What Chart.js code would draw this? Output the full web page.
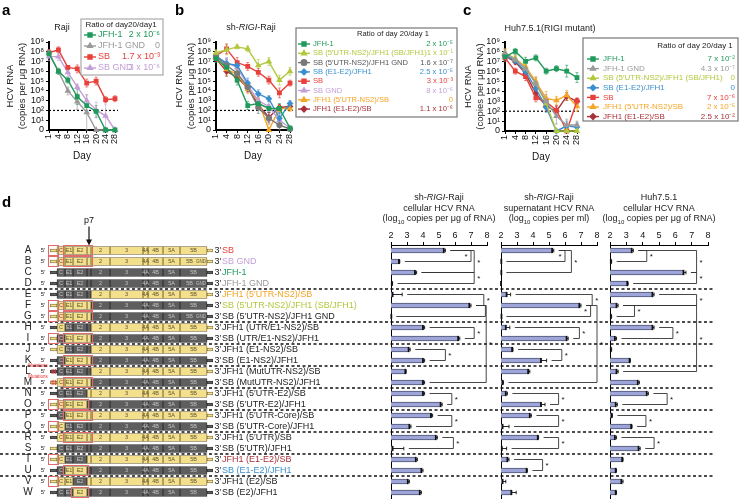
<!DOCTYPE html>
<html>
<head>
<meta charset="utf-8">
<script src="https://cdn.jsdelivr.net/npm/chart.js@4.4.0/dist/chart.umd.min.js"></script>
<style>
body{margin:0;background:#fff;font-family:'Liberation Sans',Arial,Helvetica,sans-serif;}
#wrap{position:relative;width:749px;height:499px;overflow:hidden;}
canvas{position:absolute;left:0;top:0;}
.t{position:absolute;font-size:9px;color:#222;white-space:nowrap;text-align:center;line-height:10.5px;transform:translateX(-50%);}
.lt{position:absolute;font-weight:bold;font-size:15px;color:#000;}
</style>
</head>
<body>
<div id="wrap">
<canvas id="ca" width="749" height="499"></canvas>
<canvas id="cb" width="749" height="499"></canvas>
<canvas id="cc" width="749" height="499"></canvas>
<canvas id="cg" width="749" height="499"></canvas>
<canvas id="b1" width="749" height="499"></canvas>
<canvas id="b2" width="749" height="499"></canvas>
<canvas id="b3" width="749" height="499"></canvas>
<div class="lt" style="left:2px;top:1px">a</div>
<div class="lt" style="left:175px;top:1px">b</div>
<div class="lt" style="left:463px;top:1px">c</div>
<div class="lt" style="left:2px;top:193px">d</div>
<div class="t" style="left:62px;top:22px">Raji</div>
<div class="t" style="left:251px;top:22px">sh-<i>RIGI</i>-Raji</div>
<div class="t" style="left:550px;top:23px">Huh7.5.1(RIGI mutant)</div>
<div class="t" style="left:439px;top:192px">sh-<i>RIGI</i>-Raji<br>cellular HCV RNA<br>(log<sub style="font-size:6px">10</sub> copies per μg of RNA)</div>
<div class="t" style="left:549px;top:192px">sh-<i>RIGI</i>-Raji<br>supernatant HCV RNA<br>(log<sub style="font-size:6px">10</sub> copies per ml)</div>
<div class="t" style="left:659px;top:192px">Huh7.5.1<br>cellular HCV RNA<br>(log<sub style="font-size:6px">10</sub> copies per μg of RNA)</div>
</div>
<script>
// ---- time course data (log10 copies, 0 = undetected) ----
const days = ['1', '4', '8', '12', '16', '20', '24', '28'];
const detectionLimit = 2;

// a: Raji
const aJFH1 = [7.8, 6.0, 5.1, 3.4, 2.5, 1.9, 0, 0];
const aJFH1Err = [0.3, 0.3, 0.3, 0.8, 0.5, 0.6, 0, 0];
const aJFH1GND = [7.9, 6.0, 4.0, 2.9, 1.8, 0, 0, 0];
const aJFH1GNDErr = [0.3, 0.3, 0.4, 0.8, 1.8, 0, 0, 0];
const aSB = [7.9, 8.2, 6.4, 6.25, 4.8, 5.0, 3.1, 3.2];
const aSBErr = [0.3, 0.3, 0.2, 0.4, 0.4, 0.4, 0.3, 0.3];
const aSBGND = [7.5, 7.5, 5.9, 4.4, 3.0, 2.05, 1.45, 0];
const aSBGNDErr = [0.4, 0.4, 0.4, 0.3, 0.6, 0.8, 1.2, 0];
const aRatios = ['2 x 10⁻⁶', '0', '1.7 x 10⁻³', '3 x 10⁻⁶'];

// b: sh-RIGI-Raji
const bJFH1 = [7.3, 6.4, 5.1, 2.5, 2.7, 2.2, 2.2, 0.2];
const bJFH1Err = [0.4, 0.6, 0.5, 0.4, 0.5, 0.4, 0.5, 0.2];
const bSBJFH1 = [7.9, 8.2, 8.5, 8.3, 6.6, 7.0, 5.1, 6.0];
const bSBJFH1Err = [0.3, 0.5, 0.2, 0.3, 0.6, 0.4, 0.5, 0.4];
const bSBJFH1GND = [7.5, 6.6, 5.8, 4.4, 2.3, 1.2, 0.5, 0.1];
const bSBJFH1GNDErr = [0.4, 0.6, 0.5, 0.5, 0.6, 0.6, 0.5, 0.1];
const bSBE1E2 = [7.6, 6.8, 6.6, 4.8, 3.7, 3.2, 1.2, 2.7];
const bSBE1E2Err = [0.3, 0.5, 0.4, 0.5, 0.4, 0.3, 0.6, 0.3];
const bSB = [7.6, 8.3, 6.9, 6.5, 5.9, 5.1, 3.8, 4.8];
const bSBErr = [0.3, 0.5, 0.5, 0.4, 0.4, 0.4, 0.5, 0.3];
const bSBGND = [7.5, 6.9, 6.4, 4.6, 3.0, 2.4, 1.0, 0.2];
const bSBGNDErr = [0.3, 0.5, 0.5, 0.5, 0.5, 0.5, 0.6, 0.2];
const bJFHUtrSB = [7.4, 6.2, 5.7, 4.2, 3.0, 0, 2.2, 2.2];
const bJFHUtrSBErr = [0.3, 0.6, 0.5, 0.5, 0.5, 0, 0.3, 0.3];
const bJFHE1E2SB = [7.3, 6.0, 5.4, 4.3, 2.6, 1.3, 2.3, 2.4];
const bJFHE1E2SBErr = [0.3, 0.5, 0.5, 0.4, 0.5, 0.5, 0.3, 0.3];
const bRatios = ['2 x 10⁻⁵', '1 x 10⁻¹', '1.6 x 10⁻⁷', '2.5 x 10⁻⁵', '3 x 10⁻³', '8 x 10⁻⁶', '0', '1.1 x 10⁻⁶'];

// c: Huh7.5.1
const cJFH1 = [7.5, 8.05, 7.05, 7.4, 6.05, 6.3, 6.05, 5.4];
const cJFH1Err = [0.4, 0.3, 0.4, 0.3, 0.3, 0.3, 0.6, 0.5];
const cJFH1GND = [7.9, 7.2, 6.3, 4.8, 3.0, 1.5, 0.6, 0.6];
const cJFH1GNDErr = [0.4, 0.3, 0.4, 0.6, 0.7, 0.8, 0.6, 0.4];
const cSBJFH1 = [7.9, 7.3, 6.3, 4.8, 2.8, 0, 0, 0];
const cSBJFH1Err = [0.3, 0.3, 0.4, 0.5, 0.6, 0, 0, 0];
const cSBE1E2 = [7.7, 7.1, 6.0, 4.3, 2.4, 0, 0.5, 0.4];
const cSBE1E2Err = [0.3, 0.3, 0.4, 0.5, 0.5, 0, 0.5, 0.4];
const cSB = [7.4, 6.05, 5.5, 3.35, 2.95, 2.1, 0, 3.05];
const cSBErr = [0.4, 0.3, 0.4, 0.4, 0.4, 0.5, 0, 0.3];
const cJFHUtrSB = [7.9, 7.3, 6.5, 5.0, 3.3, 3.1, 3.6, 2.5];
const cJFHUtrSBErr = [0.4, 0.3, 0.4, 0.5, 0.7, 0.4, 0.5, 0.5];
const cJFHE1E2SB = [7.6, 7.0, 5.8, 3.8, 2.5, 2.0, 3.5, 3.0];
const cJFHE1E2SBErr = [0.3, 0.3, 0.4, 0.5, 0.5, 0.5, 0.4, 0.3];
const cRatios = ['7 x 10⁻²', '4.3 x 10⁻⁷', '0', '0', '7 x 10⁻⁶', '2 x 10⁻⁵', '2.5 x 10⁻²'];

// ---- d: chimeras ----
const rowIds = ['A','B','C','D','E','F','G','H','I','J','K','L','M','N','O','P','Q','R','S','T','U','V','W'];
const rowNames = ['SB', 'SB GND', 'JFH-1', 'JFH-1 GND', 'JFH1 (5′UTR-NS2)/SB', 'SB (5′UTR-NS2)/JFH1 (SB/JFH1)',
  'SB (5′UTR-NS2)/JFH1 GND', 'JFH1 (UTR/E1-NS2)/SB', 'SB (UTR/E1-NS2)/JFH1', 'JFH1 (E1-NS2)/SB', 'SB (E1-NS2)/JFH1',
  'JFH1 (MutUTR-NS2)/SB', 'SB (MutUTR-NS2)/JFH1', 'JFH1 (5′UTR-E2)/SB', 'SB (5′UTR-E2)/JFH1', 'JFH1 (5′UTR-Core)/SB',
  'SB (5′UTR-Core)/JFH1', 'JFH1 (5′UTR)/SB', 'SB (5′UTR)/JFH1', 'JFH1 (E1-E2)/SB', 'SB (E1-E2)/JFH1', 'JFH1 (E2)/SB', 'SB (E2)/JFH1'];
const segNames = ['', 'C', 'E1', 'E2', '', '2', '3', '4A', '4B', '5A', '5B', ''];
const segLengths = [7, 8, 8, 14, 4, 19, 33, 5, 15, 17, 27, 6];
// S = SB origin, J = JFH1 origin, per segment
const rowOrigin = ['SSSSSSSSSSSS', 'SSSSSSSSSSSS', 'JJJJJJJJJJJJ', 'JJJJJJJJJJJJ', 'JJJJJSSSSSSS', 'SSSSSJJJJJJJ',
  'SSSSSJJJJJJJ', 'JSJJJSSSSSSS', 'SJSSSJJJJJJJ', 'SSJJJSSSSSSS', 'JJSSSJJJJJJJ', 'JJJJJSSSSSSS', 'SSSSSJJJJJJJ',
  'JJJJSSSSSSSS', 'SSSSJJJJJJJJ', 'JJSSSSSSSSSS', 'SSJJJJJJJJJJ', 'JSSSSSSSSSSS', 'SJJJJJJJJJJJ', 'SSJJSSSSSSSS',
  'JJSSJJJJJJJJ', 'SSSJSSSSSSSS', 'JJJSJJJJJJJJ'];
const gndRows = ['B', 'D', 'G'];
const mutRows = ['L', 'M'];
const rowHighlight = [[[0,0],[2,4]], [[0,0],[2,4]], [], [], [], [[0,0],[2,4]], [[0,0],[2,4]], [], [[0,0],[2,4]], [], [[2,4]],
  [], [[2,4]], [], [[0,0],[2,3]], [[2,4]], [[0,0]], [[2,4]], [], [[0,0]], [[2,3]], [[0,0]], [[3,3]]];
const groupBreaks = [4, 7, 9, 11, 13, 15, 17, 19, 21];

const rajiCell = [5.3, 2.5, 3.5, 2.05, 2.1, 6.9, 2.02, 4.0, 6.2, 3.1, 4.0, 2.9, 4.0, 4.0, 5.1, 4.5, 3.15, 4.8, 2.1, 3.55, 3.9, 3.05, 3.8];
const rajiCellErr = [0.1, 0.05, 0.1, 0.05, 0.6, 0.1, 0, 0.1, 0.1, 0.1, 0.1, 0.05, 0.1, 0.1, 0.1, 0.1, 0.1, 0.1, 0.7, 0.1, 0.1, 0.1, 0.1];
const rajiSup = [5.2, 2.02, 2.02, 2.0, 2.35, 6.9, 2.03, 2.3, 6.1, 2.7, 4.5, 3.7, 2.1, 2.3, 4.5, 3.8, 2.1, 4.3, 2.05, 2.4, 3.6, 2.1, 2.65];
const rajiSupErr = [0.1, 0, 0, 0, 0.25, 0.1, 0, 0.25, 0.1, 0.05, 0.35, 0.1, 0.05, 0.1, 0.25, 0.1, 0.4, 0.05, 0.3, 0.1, 0.05, 0.2, 0.3];
const huhCell = [3.33, 2.05, 6.5, 3.06, 4.6, 2.4, 2.05, 4.6, 2.3, 2.05, 3.2, 2.4, 3.7, 4.25, 2.35, 2.1, 3.3, 2.3, 3.75, 2.75, 2.35, 2.7, 2.35];
const huhCellErr = [0.1, 0.05, 0.15, 0.05, 0.1, 0.1, 0.05, 0.1, 0.1, 0.05, 0.05, 0.1, 0.1, 0.1, 0.1, 0.05, 0.05, 0.1, 0.1, 0.05, 0.05, 0.1, 0.05];
// significance brackets: [row1, row2, log10 position, star side]
const rajiCellSig = [[0,1,7.0,'l'], [0,2,7.2,'r'], [2,3,7.2,'r'], [4,5,7.8,'r'], [5,6,7.9,''], [5,12,7.95,'r'],
  [7,8,7.2,'r'], [9,10,5.4,'r'], [13,14,5.8,'r'], [15,16,5.8,'r'], [17,18,5.9,'r']];
const rajiSupSig = [[0,1,6.0,'l'], [0,2,6.4,'r'], [4,5,7.7,'r'], [5,6,7.6,'l'], [5,12,8.0,'r'], [7,8,6.9,'r'],
  [9,10,5.8,'r'], [13,14,5.6,'r'], [15,16,5.6,'r'], [17,18,5.6,'r'], [19,20,4.6,'r']];
const huhCellSig = [[0,1,4.25,'r'], [0,2,7.3,'r'], [2,3,7.3,'r'], [4,5,7.3,'r'], [5,6,3.5,'r'], [5,11,7.3,'r'],
  [7,8,5.85,'r'], [13,14,5.5,'r'], [15,16,4.2,'r'], [17,18,4.7,'r']];

// ---- styles ----
const fontFam = "'Liberation Sans', Arial, Helvetica, sans-serif";
const col = { green: '#1f9a5b', gray: '#9a9a9a', red: '#e8403a', purple: '#c49fd6', lime: '#b3c83e',
  blue: '#3b8fd0', orange: '#f5a524', dred: '#a8323a', dgray: '#7a7a7a' };
const nameColors = { A: col.red, B: col.purple, C: col.green, D: col.gray, E: col.orange, F: col.lime, T: col.dred, U: col.blue };

Chart.defaults.font.family = fontFam;
Chart.defaults.font.size = 9;
Chart.defaults.color = '#222';
Chart.defaults.animation = false;
Chart.defaults.responsive = false;
Chart.defaults.plugins.legend.display = false;
Chart.defaults.plugins.tooltip.enabled = false;

const supMap = { '0':'⁰','1':'¹','2':'²','3':'³','4':'⁴','5':'⁵','6':'⁶','7':'⁷','8':'⁸','9':'⁹' };
function pow10(v) { return v === 0 ? '0' : '10' + String(v).split('').map(c => supMap[c]).join(''); }

// dotted detection limit line
const lodPlugin = {
  id: 'lod',
  beforeDatasetsDraw(chart) {
    const { ctx, chartArea: a } = chart;
    const y = chart.scales.y.getPixelForValue(detectionLimit);
    ctx.save();
    ctx.setLineDash([2, 2]);
    ctx.strokeStyle = '#000';
    ctx.lineWidth = 1.2;
    ctx.beginPath(); ctx.moveTo(a.left, y); ctx.lineTo(a.right + 3, y); ctx.stroke();
    ctx.restore();
  }
};

// error bars for the time courses
const errPlugin = {
  id: 'errs',
  beforeDatasetsDraw(chart) {
    const { ctx } = chart;
    const ys = chart.scales.y;
    chart.data.datasets.forEach((ds, i) => {
      const meta = chart.getDatasetMeta(i);
      ctx.save();
      ctx.strokeStyle = ds.borderColor;
      ctx.globalAlpha = 0.8;
      ctx.lineWidth = 0.8;
      meta.data.forEach((pt, j) => {
        const e = ds.err[j];
        if (!e) return;
        const v = ds.data[j];
        const y1 = ys.getPixelForValue(Math.min(9.2, v + e));
        const y2 = ys.getPixelForValue(Math.max(0, v - e));
        ctx.beginPath();
        ctx.moveTo(pt.x, y1); ctx.lineTo(pt.x, y2);
        ctx.moveTo(pt.x - 1.5, y1); ctx.lineTo(pt.x + 1.5, y1);
        ctx.moveTo(pt.x - 1.5, y2); ctx.lineTo(pt.x + 1.5, y2);
        ctx.stroke();
      });
      ctx.restore();
    });
  }
};

// boxed legend with the day20/day1 ratios
const boxLegend = {
  id: 'boxLegend',
  afterDraw(chart, args, o) {
    if (!o.box) return;
    const { ctx } = chart;
    const [bx, by, bw, bh] = o.box;
    ctx.save();
    ctx.fillStyle = '#fff';
    ctx.fillRect(bx, by, bw, bh);
    ctx.strokeStyle = o.boxColor;
    ctx.lineWidth = 1.2;
    ctx.strokeRect(bx, by, bw, bh);
    ctx.textBaseline = 'middle';
    ctx.font = o.headerSize + 'px ' + fontFam;
    ctx.fillStyle = '#222';
    ctx.textAlign = 'center';
    ctx.fillText(o.header, o.headerX, o.headerY);
    ctx.font = o.size + 'px ' + fontFam;
    chart.data.datasets.forEach((ds, i) => {
      const y = o.rowY0 + i * o.rowStep;
      ctx.strokeStyle = ds.borderColor;
      ctx.fillStyle = ds.borderColor;
      ctx.lineWidth = 1.4;
      ctx.beginPath(); ctx.moveTo(o.markerX, y); ctx.lineTo(o.markerX + 12, y); ctx.stroke();
      Chart.helpers.drawPoint(ctx, { pointStyle: ds.pointStyle, rotation: 0, radius: 2.8, borderWidth: 1 }, o.markerX + 6, y);
      ctx.fillStyle = ds.textColor;
      ctx.textAlign = 'left';
      ctx.fillText(ds.label, o.nameX, y);
      ctx.textAlign = 'right';
      ctx.fillText(o.ratios[i], o.ratioX, y);
    });
    ctx.restore();
  }
};

function lineChart(id, series, area, legend) {
  return new Chart(document.getElementById(id), {
    type: 'line',
    data: {
      labels: days,
      datasets: series.map(s => ({
        label: s[0], data: s[1], err: s[2], borderColor: s[3], backgroundColor: s[3],
        textColor: s[5] || s[3], pointStyle: s[4], pointRadius: 2.4, borderWidth: 1.4, clip: false
      }))
    },
    options: {
      layout: { padding: { left: area.padL, top: area.top, right: 749 - area.right, bottom: 499 - area.bottom - 32 } },
      scales: {
        x: {
          offset: false,
          grid: { drawOnChartArea: false, color: '#000', tickLength: 3 },
          border: { color: '#000', width: 2 },
          ticks: { minRotation: 90, maxRotation: 90, autoSkip: false, padding: 1, color: '#111', font: { size: 9 } },
          title: { display: true, text: 'Day', color: '#111', font: { size: 10 }, padding: { top: 1, bottom: 0 } },
          afterFit: s => { s.height = 32; }
        },
        y: {
          min: 0, max: 9,
          ticks: { stepSize: 1, autoSkip: false, callback: v => pow10(v), padding: 2, color: '#111', font: { size: 9 } },
          grid: { drawOnChartArea: false, color: '#000', tickLength: 3 },
          border: { color: '#000', width: 2 },
          title: { display: true, text: ['HCV RNA', '(copies per μg RNA)'], color: '#222', font: { size: 9.5 }, padding: 0 },
          afterFit: s => { s.width = area.left - area.padL; }
        }
      },
      plugins: { boxLegend: legend }
    },
    plugins: [lodPlugin, errPlugin, boxLegend]
  });
}

lineChart('ca', [
  ['JFH-1', aJFH1, aJFH1Err, col.green, 'rect'],
  ['JFH-1 GND', aJFH1GND, aJFH1GNDErr, col.gray, 'triangle'],
  ['SB', aSB, aSBErr, col.red, 'rect'],
  ['SB GND', aSBGND, aSBGNDErr, col.purple, 'triangle']
], { padL: 5, left: 49, right: 115, top: 42, bottom: 130 }, {
  box: [81, 19, 82, 56], boxColor: '#aaa', header: 'Ratio of day20/day1', headerSize: 8, headerX: 121, headerY: 25,
  size: 9, rowY0: 35, rowStep: 11, markerX: 84, nameX: 98, ratioX: 160, ratios: aRatios
});

lineChart('cb', [
  ['JFH-1', bJFH1, bJFH1Err, col.green, 'rect'],
  ['SB (5′UTR-NS2)/JFH1 (SB/JFH1)', bSBJFH1, bSBJFH1Err, col.lime, 'triangle'],
  ['SB (5′UTR-NS2)/JFH1 GND', bSBJFH1GND, bSBJFH1GNDErr, col.dgray, 'circle', '#555'],
  ['SB (E1-E2)/JFH1', bSBE1E2, bSBE1E2Err, col.blue, 'rectRot'],
  ['SB', bSB, bSBErr, col.red, 'rect'],
  ['SB GND', bSBGND, bSBGNDErr, col.purple, 'triangle'],
  ['JFH1 (5′UTR-NS2)/SB', bJFHUtrSB, bJFHUtrSBErr, col.orange, 'triangle'],
  ['JFH1 (E1-E2)/SB', bJFHE1E2SB, bJFHE1E2SBErr, col.dred, 'rectRot']
], { padL: 174, left: 216, right: 290, top: 42, bottom: 130 }, {
  box: [296, 28, 161, 89], boxColor: '#777', header: 'Ratio of day 20/day 1', headerSize: 7.6, headerX: 393, headerY: 34,
  size: 7.6, rowY0: 44, rowStep: 9.3, markerX: 298, nameX: 313, ratioX: 453, ratios: bRatios
});

lineChart('cc', [
  ['JFH-1', cJFH1, cJFH1Err, col.green, 'rect'],
  ['JFH-1 GND', cJFH1GND, cJFH1GNDErr, col.gray, 'triangle'],
  ['SB (5′UTR-NS2)/JFH1 (SB/JFH1)', cSBJFH1, cSBJFH1Err, col.lime, 'triangle'],
  ['SB (E1-E2)/JFH1', cSBE1E2, cSBE1E2Err, col.blue, 'rectRot'],
  ['SB', cSB, cSBErr, col.red, 'rect'],
  ['JFH1 (5′UTR-NS2)/SB', cJFHUtrSB, cJFHUtrSBErr, col.orange, 'triangle'],
  ['JFH1 (E1-E2)/SB', cJFHE1E2SB, cJFHE1E2SBErr, col.dred, 'rectRot']
], { padL: 463, left: 505, right: 577, top: 42, bottom: 131 }, {
  box: [583, 38, 155, 83], boxColor: '#777', header: 'Ratio of day 20/day 1', headerSize: 8, headerX: 695, headerY: 46,
  size: 8, rowY0: 59, rowStep: 9.6, markerX: 587, nameX: 603, ratioX: 735, ratios: cRatios
});

// ---- genome schematics as stacked horizontal bars ----
const yellow = '#f4e08c', grayFill = '#5e5e5e';
const genomePlugin = {
  id: 'genome',
  afterDatasetsDraw(chart) {
    const { ctx, chartArea: a } = chart;
    const ys = chart.scales.y;
    ctx.save();
    ctx.textBaseline = 'middle';
    // group separators
    ctx.setLineDash([3, 2.5]);
    ctx.strokeStyle = '#111';
    ctx.lineWidth = 1.4;
    groupBreaks.forEach(b => {
      const y = (ys.getPixelForValue(b - 1) + ys.getPixelForValue(b)) / 2;
      ctx.beginPath(); ctx.moveTo(0, y); ctx.lineTo(715, y); ctx.stroke();
    });
    ctx.setLineDash([]);
    rowIds.forEach((r, i) => {
      const y = ys.getPixelForValue(i);
      ctx.fillStyle = '#222';
      ctx.textAlign = 'center';
      ctx.font = '10px ' + fontFam;
      ctx.fillText(r, a.left - 22, y);
      ctx.font = '6px ' + fontFam;
      ctx.fillText('5′', a.left - 7, y);
      ctx.textAlign = 'left';
      ctx.font = '9px ' + fontFam;
      ctx.fillText('3′', a.right + 1.5, y);
      ctx.fillStyle = nameColors[r] || '#222';
      ctx.fillText(rowNames[i], a.right + 9, y);
      // segment labels
      ctx.textAlign = 'center';
      segNames.forEach((n, k) => {
        if (!n) return;
        const el = chart.getDatasetMeta(k).data[i];
        let cx = (el.x + el.base) / 2;
        ctx.fillStyle = rowOrigin[i][k] === 'S' ? '#5a5230' : '#c4c4c4';
        ctx.font = '5.5px ' + fontFam;
        if (n === '5B' && gndRows.includes(r)) {
          cx -= 4;
          ctx.font = '4.5px ' + fontFam;
          ctx.fillText('GND', el.x - 6, y);
          ctx.font = '5.5px ' + fontFam;
        }
        ctx.fillText(n, cx, y);
      });
      // mutated UTR
      if (mutRows.includes(r)) {
        const el = chart.getDatasetMeta(0).data[i];
        ctx.strokeStyle = '#e03030';
        ctx.lineWidth = 0.8;
        [0.3, 0.55, 0.8].forEach(f => {
          const x = el.base + (el.x - el.base) * f;
          ctx.beginPath(); ctx.moveTo(x, y - 2.5); ctx.lineTo(x, y + 2.5); ctx.stroke();
        });
        ctx.fillStyle = '#e03030';
        ctx.font = '4.5px ' + fontFam;
        ctx.fillText('Mutations', a.left - 12, y - 5.5);
      }
      // red boxes around the exchanged regions
      ctx.strokeStyle = '#e36a6a';
      ctx.lineWidth = 1;
      rowHighlight[i].forEach(([f, t]) => {
        const e1 = chart.getDatasetMeta(f).data[i], e2 = chart.getDatasetMeta(t).data[i];
        ctx.strokeRect(e1.base - 1.5, y - 5, e2.x - e1.base + 3, 10);
      });
    });
    // p7 pointer
    const p7 = chart.getDatasetMeta(4).data[0];
    const px = (p7.x + p7.base) / 2, py = ys.getPixelForValue(0) - 5;
    ctx.fillStyle = '#111';
    ctx.font = '9px ' + fontFam;
    ctx.textAlign = 'center';
    ctx.fillText('p7', px, py - 25);
    ctx.strokeStyle = '#111';
    ctx.lineWidth = 1.2;
    ctx.beginPath(); ctx.moveTo(px, py - 19); ctx.lineTo(px, py - 4); ctx.stroke();
    ctx.beginPath(); ctx.moveTo(px - 3, py - 6); ctx.lineTo(px + 3, py - 6); ctx.lineTo(px, py); ctx.closePath(); ctx.fill();
    ctx.restore();
  }
};

new Chart(document.getElementById('cg'), {
  type: 'bar',
  data: {
    labels: rowIds,
    datasets: segLengths.map((len, k) => ({
      data: rowIds.map(() => len),
      backgroundColor: rowOrigin.map(o => o[k] === 'S' ? yellow : grayFill),
      borderColor: rowOrigin.map(o => o[k] === 'S' ? '#6e6230' : '#2c2c2c'),
      borderWidth: 0.8,
      borderSkipped: false,
      barThickness: (k === 0 || k === segLengths.length - 1) ? 3 : 8,
      stack: 'genome'
    }))
  },
  options: {
    indexAxis: 'y',
    layout: { padding: { left: 50, right: 749 - 213, top: 245, bottom: 1 } },
    scales: {
      x: { display: false, stacked: true, min: 0, max: segLengths.reduce((s, v) => s + v, 0) },
      y: { display: false, stacked: true }
    }
  },
  plugins: [genomePlugin]
});

// ---- horizontal bar panels ----
const barDeco = {
  id: 'barDeco',
  afterDatasetsDraw(chart, args, o) {
    const { ctx } = chart;
    const xs = chart.scales.x, ys = chart.scales.y;
    const vals = chart.data.datasets[0].data;
    const meta = chart.getDatasetMeta(0);
    ctx.save();
    ctx.strokeStyle = '#111';
    meta.data.forEach((el, i) => {
      const x1 = xs.getPixelForValue(vals[i]);
      ctx.lineWidth = 1.8;
      ctx.beginPath(); ctx.moveTo(x1, el.y - 2.6); ctx.lineTo(x1, el.y + 2.6); ctx.stroke();
      const e = o.err[i];
      if (e > 0) {
        const x2 = xs.getPixelForValue(vals[i] + e);
        ctx.lineWidth = 0.9;
        ctx.beginPath(); ctx.moveTo(x1, el.y); ctx.lineTo(x2, el.y);
        ctx.moveTo(x2, el.y - 1.8); ctx.lineTo(x2, el.y + 1.8); ctx.stroke();
      }
    });
    ctx.lineWidth = 0.9;
    ctx.strokeStyle = '#333';
    ctx.fillStyle = '#111';
    ctx.font = '8px ' + fontFam;
    ctx.textAlign = 'center';
    ctx.textBaseline = 'middle';
    o.sig.forEach(([r1, r2, xv, side]) => {
      const xb = xs.getPixelForValue(xv);
      const y1 = ys.getPixelForValue(r1), y2 = ys.getPixelForValue(r2);
      const s1 = xs.getPixelForValue(vals[r1] + o.err[r1]) + 5;
      const s2 = xs.getPixelForValue(vals[r2] + o.err[r2]) + 5;
      ctx.beginPath(); ctx.moveTo(s1, y1); ctx.lineTo(xb, y1); ctx.lineTo(xb, y2); ctx.lineTo(s2, y2); ctx.stroke();
      if (side) ctx.fillText('*', side === 'r' ? xb + 4.5 : xb - 5, (y1 + y2) / 2 + 1);
    });
    ctx.restore();
  }
};

function barPanel(id, values, errs, sig, left, right) {
  return new Chart(document.getElementById(id), {
    type: 'bar',
    data: {
      labels: rowIds,
      datasets: [{ data: values, backgroundColor: '#9ea5d8', borderColor: '#2a2d45', borderWidth: 0.9,
        borderSkipped: false, barThickness: 5 }]
    },
    options: {
      indexAxis: 'y',
      layout: { padding: { left: left, right: 749 - right, top: 245 - 16, bottom: 1 } },
      scales: {
        x: {
          position: 'top', min: 2, max: 8,
          ticks: { stepSize: 1, padding: 1, color: '#111', font: { size: 9 } },
          grid: { drawOnChartArea: false, color: '#000', tickLength: 3 },
          border: { color: '#000', width: 1 },
          afterFit: s => { s.height = 16; }
        },
        y: {
          ticks: { display: false },
          grid: { display: false },
          border: { color: '#000', width: 1 },
          afterFit: s => { s.width = 0; }
        }
      },
      plugins: { barDeco: { err: errs, sig: sig } }
    },
    plugins: [barDeco]
  });
}

barPanel('b1', rajiCell, rajiCellErr, rajiCellSig, 391, 487);
barPanel('b2', rajiSup, rajiSupErr, rajiSupSig, 501, 597);
barPanel('b3', huhCell, huhCellErr, huhCellSig, 610, 708);
</script>
</body>
</html>
